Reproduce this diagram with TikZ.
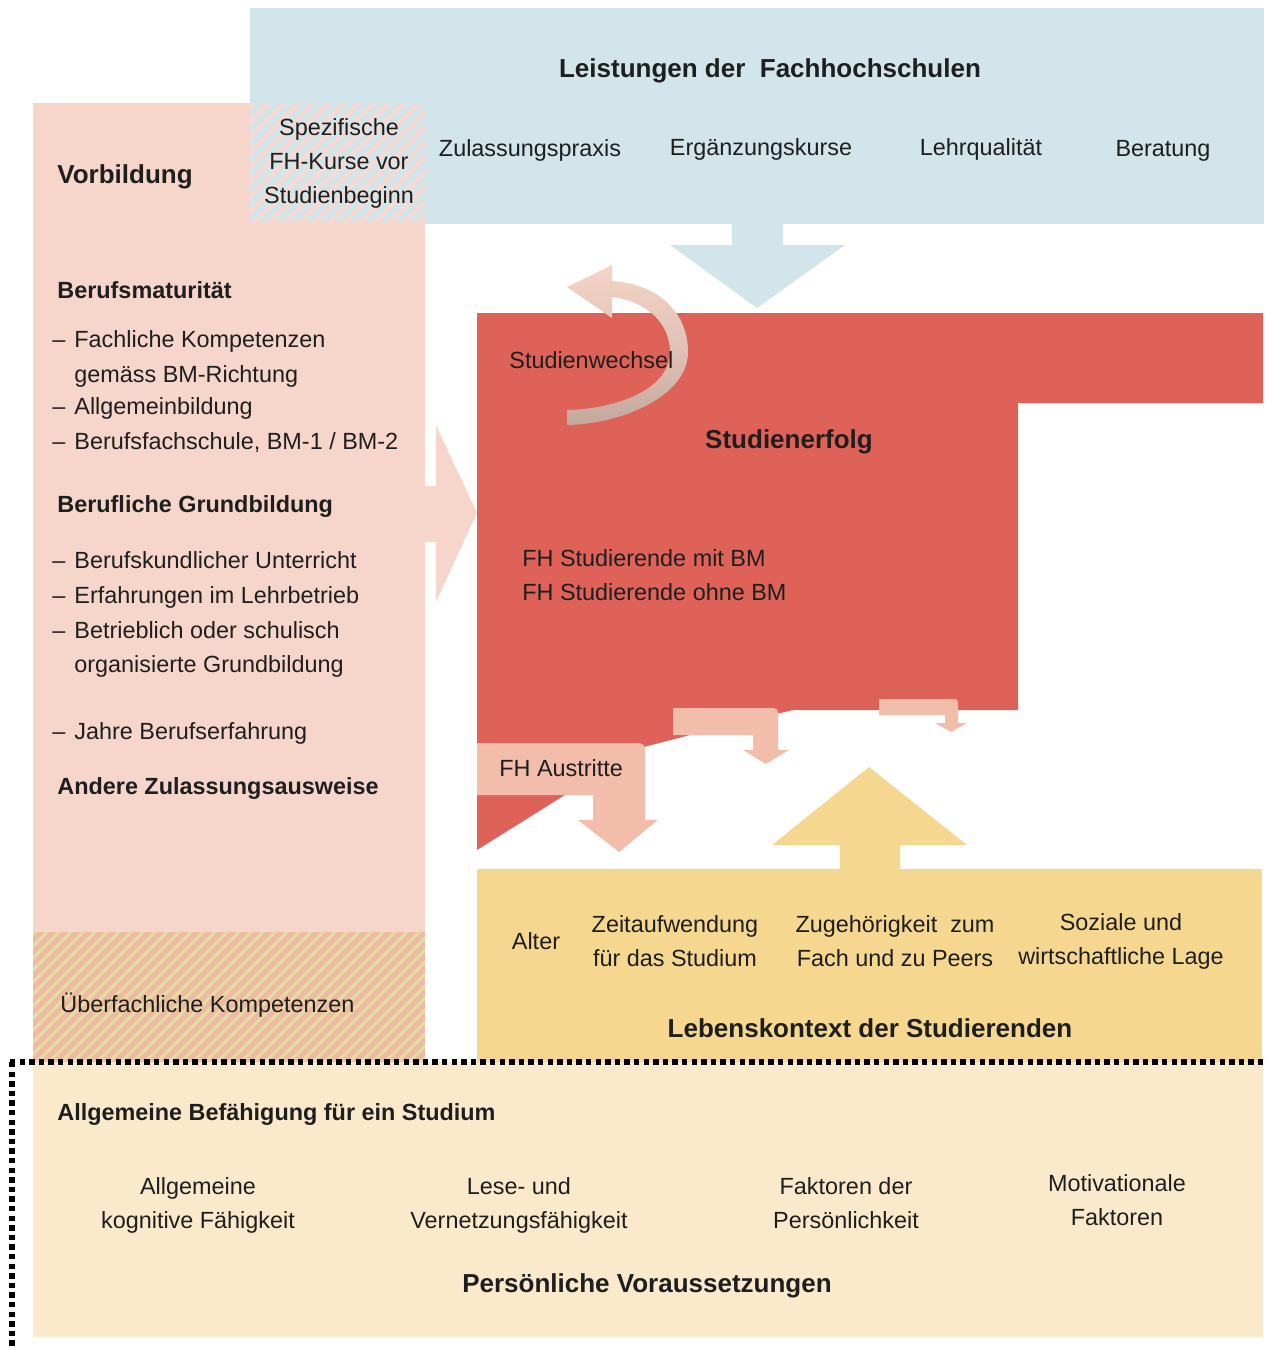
\documentclass[tikz,border=0pt]{standalone}
\usepackage{fontspec}
\setmainfont{Liberation Sans}
\definecolor{cblue}{HTML}{D1E5EA}
\definecolor{cpink}{HTML}{F6D6CA}
\definecolor{cred}{HTML}{DE6258}
\definecolor{csalm}{HTML}{F2BDAA}
\definecolor{cyel}{HTML}{F5D78F}
\definecolor{clyel}{HTML}{FAEACB}
\definecolor{cstripe}{HTML}{F8DAD2}
\definecolor{chsal}{HTML}{F0B9A6}
\definecolor{chyel}{HTML}{E6DCA0}
\definecolor{ctxt}{HTML}{1E1E1E}
\definecolor{carrtop}{HTML}{F5D4C7}
\definecolor{carrbot}{HTML}{C4A89D}
\begin{document}
\begin{tikzpicture}[x=0.5pt,y=-0.5pt,
  txt/.style={font=\fontsize{11.7}{17}\selectfont, text=ctxt, inner sep=0pt},
  bhd/.style={font=\fontsize{13}{17}\selectfont\bfseries, text=ctxt, inner sep=0pt},
  shd/.style={font=\fontsize{11.7}{17}\selectfont\bfseries, text=ctxt, inner sep=0pt},
  dotline/.style={line width=2.7pt, line cap=butt, dash pattern=on 2.7pt off 2.1pt, black}]
\useasboundingbox (0,0) rectangle (1268,1350);
% blue box
\fill[cblue] (250,8) rectangle (1264,224);
% pink box
\fill[cpink] (33,103) rectangle (425,932);
% hatched Spezifische box
\begin{scope}
\clip (250,103) rectangle (425,222);
\fill[cblue] (250,103) rectangle (425,222);
\foreach \k in {0,...,22} \draw[cstripe, line width=2.2pt] ({250+\k*15-140},232) -- ++(150,-150);
\end{scope}
% hatched Ueberfachliche
\begin{scope}
\clip (33,932) rectangle (425,1062);
\fill[chsal] (33,932) rectangle (425,1062);
\foreach \k in {0,...,48} \draw[chyel, line width=1.6pt] ({33+\k*12-150},1072) -- ++(160,-160);
\end{scope}
% blue arrow
\fill[cblue] (732,222) -- (732,245) -- (670,245) -- (757,308) -- (845,245) -- (783,245) -- (783,222) -- cycle;
% pink arrow
\fill[cpink] (424,486) -- (436,486) -- (436,425) -- (477,513) -- (436,602) -- (436,542) -- (424,542) -- cycle;
% red shape
\fill[cred] (477,313) -- (1263,313) -- (1263,403) -- (1018,403) -- (1018,710) -- (793,710) -- (690,735) -- (640,748) -- (477,850) -- cycle;
% curved arrow
\shade[top color=carrtop, bottom color=carrbot, middle color=carrtop!60!carrbot]
  (612,265) -- (567,287) -- (612,318) -- (612,297)
  .. controls (645,301) and (670,322) .. (670,352)
  .. controls (670,390) and (615,409) .. (567,410) -- (567,425)
  .. controls (622,424) and (688,396) .. (688,352)
  .. controls (688,314) and (660,284) .. (612,281) -- cycle;
% exit arrows
\fill[csalm] (477,743) -- (631,743) .. controls (645,743) .. (645,757) -- (645,820) -- (658,820) -- (619,852) -- (578,820) -- (593,820) -- (593,795) -- (477,795) -- cycle;
\fill[csalm] (673,708) -- (768,708) .. controls (778,708) .. (778,718) -- (778,750) -- (789,750) -- (766,764) -- (743,750) -- (753,750) -- (753,735) -- (673,735) -- cycle;
\fill[csalm] (879,699) -- (951,699) .. controls (958,699) .. (958,706) -- (958,723) -- (967,723) -- (951,732) -- (935,723) -- (945,723) -- (945,715) -- (879,715) -- cycle;
% yellow arrow and box
\fill[cyel] (840,870) -- (840,845) -- (772,845) -- (869,767) -- (967,845) -- (900,845) -- (900,870) -- cycle;
\fill[cyel] (477,869) rectangle (1262,1062);
% bottom box
\fill[clyel] (33,1062) rectangle (1263,1337);
% dotted frame
\coordinate (dA) at (10,1062);
\coordinate (dB) at (1268,1062);
\coordinate (dC) at (12,1062);
\coordinate (dD) at (12,1350);
\draw[dotline] (dA) -- (dB);
\draw[dotline] (dC) -- (dD);

% texts
\node[bhd, anchor=base] (t1) at (770,77) {Leistungen der~ Fachhochschulen};
\node[txt, anchor=base] (t2) at (530,156) {Zulassungspraxis};
\node[txt, anchor=base] (t3) at (761,155) {Ergänzungskurse};
\node[txt, anchor=base] (t4) at (981,155) {Lehrqualität};
\node[txt, anchor=base] (t5) at (1163,156) {Beratung};
\node[txt, align=center] (t6) at (339,163) {Spezifische\\FH-Kurse vor\\Studienbeginn};
\node[bhd, anchor=base west] (v0) at (57,183) {Vorbildung};
\node[shd, anchor=base west] (v1) at (57,298) {Berufsmaturität};
\node[txt, anchor=base west] (v2) at (52,347) {\makebox[11pt][l]{–}Fachliche Kompetenzen};
\node[txt, anchor=base west] (v3) at (74,382) {gemäss BM-Richtung};
\node[txt, anchor=base west] (v4) at (52,414) {\makebox[11pt][l]{–}Allgemeinbildung};
\node[txt, anchor=base west] (v5) at (52,449) {\makebox[11pt][l]{–}Berufsfachschule, BM-1 / BM-2};
\node[shd, anchor=base west] (v6) at (57,512) {Berufliche Grundbildung};
\node[txt, anchor=base west] (v7) at (52,568) {\makebox[11pt][l]{–}Berufskundlicher Unterricht};
\node[txt, anchor=base west] (v8) at (52,603) {\makebox[11pt][l]{–}Erfahrungen im Lehrbetrieb};
\node[txt, anchor=base west] (v9) at (52,638) {\makebox[11pt][l]{–}Betrieblich oder schulisch};
\node[txt, anchor=base west] (v10) at (74,672) {organisierte Grundbildung};
\node[txt, anchor=base west] (v11) at (52,739) {\makebox[11pt][l]{–}Jahre Berufserfahrung};
\node[shd, anchor=base west] (v12) at (57,794) {Andere Zulassungsausweise};
\node[txt, anchor=base west] (v13) at (60,1012) {Überfachliche Kompetenzen};
\node[txt, anchor=base west] (s1) at (509,368) {Studienwechsel};
\node[bhd, anchor=base] (s2) at (789,448) {Studienerfolg};
\node[txt, anchor=west, align=left] (s3) at (522,575) {FH Studierende mit BM\\FH Studierende ohne BM};
\node[txt, anchor=base west] (s4) at (499,776) {FH Austritte};
\node[txt, anchor=base] (l1) at (536,949) {Alter};
\node[txt, align=center] (l2) at (675,941) {Zeitaufwendung\\für das Studium};
\node[txt, align=center] (l3) at (895,941) {Zugehörigkeit~ zum\\Fach und zu Peers};
\node[txt, align=center] (l4) at (1121,941) {Soziale und\\wirtschaftliche Lage};
\node[bhd, anchor=base] (l5) at (870,1037) {Lebenskontext der Studierenden};
\node[shd, anchor=base west] (p0) at (57,1120) {Allgemeine Befähigung für ein Studium};
\node[txt, align=center] (p1) at (198,1205) {Allgemeine\\kognitive Fähigkeit};
\node[txt, align=center] (p2) at (519,1205) {Lese- und\\Vernetzungsfähigkeit};
\node[txt, align=center] (p3) at (846,1203) {Faktoren der\\Persönlichkeit};
\node[txt, align=center] (p4) at (1117,1200) {Motivationale\\Faktoren};
\node[bhd, anchor=base] (p5) at (647,1292) {Persönliche Voraussetzungen};
\end{tikzpicture}
\end{document}
